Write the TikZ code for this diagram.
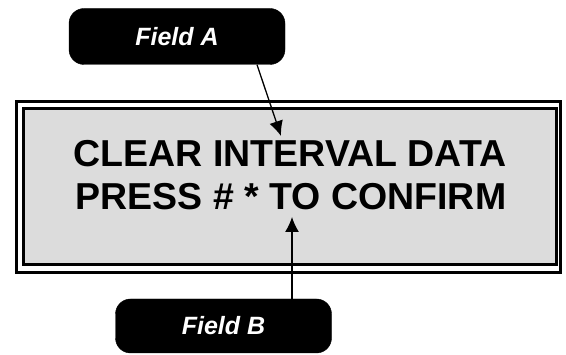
\documentclass[tikz,border=0pt]{standalone}
\usepackage{fontspec}
\setmainfont{Liberation Sans}
\usetikzlibrary{arrows.meta}
\definecolor{ScreenGray}{HTML}{DCDCDC}
\tikzstyle{FieldNode}=[rectangle, rounded corners=15pt, fill=black, draw=black, text=white, minimum width=216pt, minimum height=56pt, inner sep=0pt, font=\fontsize{25}{25}\selectfont\bfseries\itshape]
\tikzstyle{ScreenText}=[anchor=base, inner sep=0pt, font=\fontsize{37.5}{40}\selectfont\bfseries]
\tikzstyle{FrameLine}=[line width=3pt]
\tikzstyle{PointEdge}=[->, line width=1.3pt]
\tikzset{>={Latex[length=15pt,width=14pt]}}

\begin{document}
\begin{tikzpicture}[x=1pt,y=-1pt]
\useasboundingbox (0,0) rectangle (566,355);
\draw[FrameLine] (16.5,101.5) rectangle (560.5,272.5);
\draw[FrameLine, fill=ScreenGray] (23.5,108.5) rectangle (556.5,265);
\node[ScreenText](Line1) at (290,167) {CLEAR INTERVAL DATA};
\node[ScreenText](Line2) at (291,210) {PRESS \# * TO CONFIRM};
\node[FieldNode](FieldA) at (177,36.5) {Field A};
\node[FieldNode, minimum height=54pt](FieldB) at (223.5,326) {Field B};
\coordinate (TipA) at (281,136);
\coordinate (TipB) at (292,217);
\draw[PointEdge]([xshift=80pt]FieldA.south) -- (TipA);
\draw[PointEdge]([xshift=68.5pt]FieldB.north) -- (TipB);
\end{tikzpicture}
\end{document}
